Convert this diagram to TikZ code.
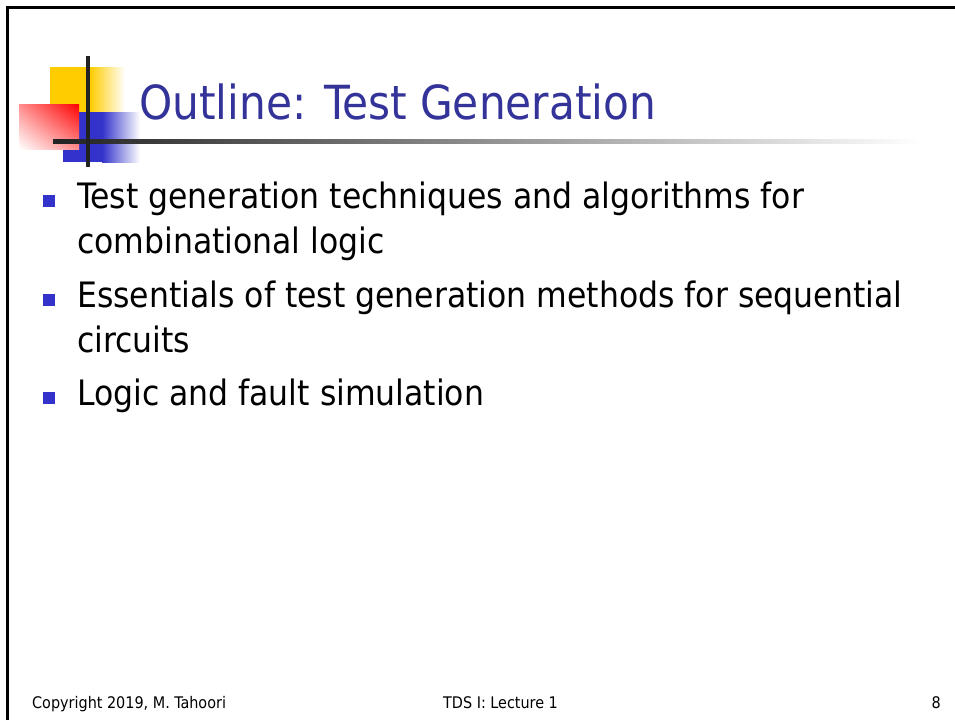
\documentclass[tikz,border=0pt]{standalone}
\usepackage{fontspec}
\usetikzlibrary{shadings}
\setmainfont{DejaVu Sans Condensed}
\definecolor{titleblue}{HTML}{333399}
\definecolor{bulletblue}{HTML}{3333CC}
\definecolor{logoyellow}{HTML}{FFCC00}
\definecolor{logored}{HTML}{FF0000}
\definecolor{linegray}{HTML}{222222}
\begin{document}
\begin{tikzpicture}[x=1pt,y=-1pt,
  body/.style={anchor=base west, inner sep=0pt, font=\fontsize{35}{45}\selectfont},
  bulletsq/.style={fill=bulletblue, draw=none, minimum size=12pt, inner sep=0pt},
  foot/.style={inner sep=0pt, font=\fontsize{16}{19}\selectfont}]
\useasboundingbox (0,0) rectangle (955,720);
\fill[white] (0,0) rectangle (955,720);
\draw[line width=3pt] (7.5,720) -- (7.5,7.5) -- (955,7.5);
% logo
\fill[logoyellow] (50,67) rectangle (90,112);
\shade[left color=logoyellow, right color=white] (90,67) rectangle (125,112);
\fill[bulletblue] (63,112) rectangle (102,162);
\shade[left color=bulletblue, right color=white] (102,112) rectangle (140,162);
\shade[upper right=logored, upper left=logored!45, lower right=logored!45, lower left=white] (19,104) rectangle (79,149);
\shade[left color=linegray, right color=white] (53,139) rectangle (920,143);
\fill[linegray] (86,56) rectangle (90,167);
% title
\node[anchor=base west, inner sep=0pt, text=titleblue, font=\fontsize{47}{56}\selectfont] (title) at (139,119) {Outline: Test Generation};
% bullets
\node[bulletsq] (b1) at (48.5,201) {};
\node[bulletsq] (b2) at (48.5,300) {};
\node[bulletsq] (b3) at (48.5,398) {};
\node[body] (l1a) at (77,208) {Test generation techniques and algorithms for};
\node[body] (l1b) at (77,253) {combinational logic};
\node[body] (l2a) at (77,307) {Essentials of test generation methods for sequential};
\node[body] (l2b) at (77,352) {circuits};
\node[body] (l3) at (77,405) {Logic and fault simulation};
% footer
\node[foot, anchor=base west] (copy) at (32,708) {Copyright 2019, M. Tahoori};
\node[foot, anchor=base west] (lect) at (443,708) {TDS I: Lecture 1};
\node[foot, anchor=base east] (page) at (941,708) {8};
\end{tikzpicture}
\end{document}
